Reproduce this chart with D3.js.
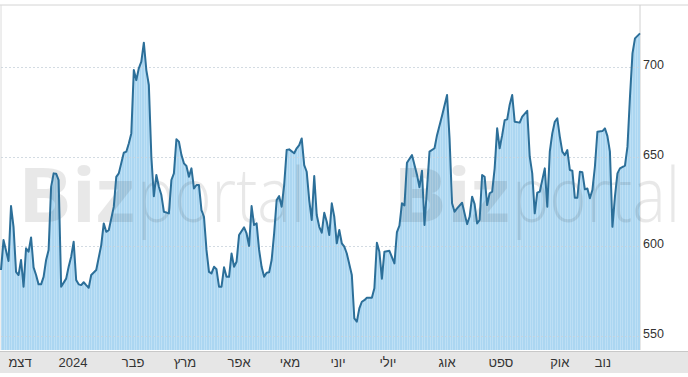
<!DOCTYPE html>
<html>
<head>
<meta charset="utf-8">
<script src="https://cdn.jsdelivr.net/npm/d3@7"></script>
<style>
  body { margin: 0; background: #fff; }
  svg { display: block; }
</style>
</head>
<body>
<svg id="chart" width="688" height="377"></svg>
<script>
// trading-day index of each reading (0 = start of Dec 2023)
const days = [0,1,3,4,5,6,7,8,9,10,11,12,13,14,15,16,17,18,19,20,
  21,22,23,24,26,27,28,29,30,31,32,33,34,35,36,38,40,41,42,43,
  45,46,47,49,50,51,52,53,54,55,56,57,58,59,60,61,62,63,64,65,
  67,68,69,70,71,72,73,74,75,76,77,78,79,80,81,82,83,84,85,86,
  87,88,89,90,91,92,93,94,95,97,98,99,100,101,102,103,104,105,106,107,
  108,109,110,111,112,113,114,115,117,118,119,120,121,122,123,124,125,126,127,128,
  129,130,131,132,133,134,135,136,137,138,140,141,142,143,144,145,146,148,149,150,
  151,152,153,155,156,157,158,159,160,161,162,164,166,167,168,169,171,173,174,176,
  178,179,180,181,182,184,186,187,188,189,190,191,192,193,194,195,196,197,198,199,
  200,201,202,203,204,205,207,208,210,211,212,213,214,215,217,218,219,220,221,222,
  223,224,225,226,227,228,229,230,231,232,233,234,235,236,237,238,240,241,242,243,
  244,245,246,247,249,250,251,252,253,255];

const prices = [586.8,603.5,591.8,622.5,610.9,585.8,584,592.4,577.5,598.9,
  597,605,588.3,584,578.8,578.8,583,592.4,598,633.2,
  640.7,640.5,637,577.5,582,588.6,594.2,602.6,581.2,578.8,
  578.4,580,578.4,576.9,584,586.8,600.7,612.8,608.1,609,
  622,638.8,640.7,652.2,652.8,657.4,663,698.3,692.7,699.3,
  703,713.6,698.3,690,650,628,639.8,633.2,628.6,619.3,
  618.4,637,640.7,659.7,658.4,651,646.3,644.8,638.8,643.5,
  632.3,634.2,634.2,620.2,616.5,598,585.8,584.9,588.6,587.2,
  577.5,577.5,588.3,583,583,596,588.6,591.4,606.3,610.6,
  607.2,600.2,622.5,611.9,612.8,598,588.6,583,585.3,585.5,
  592.4,607.2,625.8,628,622.1,634.2,653.7,654.1,651.9,654.7,
  656.5,660.2,645.3,641.6,625.8,614.7,639.2,617.5,610.9,607.6,
  618.7,613.7,606.3,624,616.5,601.7,609.1,601.7,599.8,596,
  584,559.8,558,565.4,569.1,570,571.3,571.3,576.6,602,
  597,582,597,597.5,594,590.5,608,611.5,624,622.8,
  646.6,650.9,640,633,642.2,611.9,652.8,654.7,662,672.8,
  684.4,660.2,624,619.3,621.2,624.3,612.4,616.5,627.7,623.6,
  612.8,614.7,639.8,638.8,623,629.6,630.5,643.5,665.8,654.7,
  662,670.4,670.8,679,684.4,669.5,669,672.3,675.6,650,
  640.7,618.4,629.9,630.5,643.5,622.1,652.8,663,669.5,671.4,
  661.2,652.8,650.9,653.7,642.6,642.2,627.1,627.1,641.6,641.3,
  631.8,632.3,626.8,631.4,644.4,663.9,664.3,665.8,661.5,652.8,
  610.9,627.7,640.7,643.5,645,655.6,683.4,707.6,716,718.8];

const monthLabels = ['דצמ', '2024', 'פבר', 'מרץ', 'אפר', 'מאי', 'יוני', 'יולי', 'אוג', 'ספט', 'אוק', 'נוב'];
const monthDays = [7.6, 28.7, 52.7, 73.4, 95, 115.3, 134.5, 154.4, 178, 199.5, 223, 240.2];
const yTicks = [550, 600, 650, 700];

const data = days.map((d, i) => ({ day: d, value: prices[i] }));

const W = 688, H = 377;
const plot = { left: 1, right: 640, top: 5, bottom: 350 };

const svg = d3.select('#chart');

const x = d3.scaleLinear().domain([0, 255]).range([plot.left, plot.right]);
const y = d3.scaleLinear().domain([542.2, 734.6]).range([plot.bottom, plot.top]);

// frame
svg.append('line').attr('x1', 0).attr('x2', W).attr('y1', plot.top).attr('y2', plot.top)
  .attr('stroke', '#d4d4d4');
svg.append('line').attr('x1', plot.left).attr('x2', plot.left).attr('y1', plot.top).attr('y2', plot.bottom)
  .attr('stroke', '#dcdcdc');
svg.append('line').attr('x1', plot.right).attr('x2', plot.right).attr('y1', plot.top).attr('y2', plot.bottom)
  .attr('stroke', '#d0d0d0');

// area + stripes
const area = d3.area().x(d => x(d.day)).y0(plot.bottom).y1(d => y(d.value));
const line = d3.line().x(d => x(d.day)).y(d => y(d.value));

svg.append('clipPath').attr('id', 'areaClip')
  .append('path').attr('d', area(data));

svg.append('path').attr('d', area(data)).attr('fill', '#abd6f1');

svg.append('g').attr('clip-path', 'url(#areaClip)')
  .selectAll('line')
  .data(d3.range(0, 256))
  .join('line')
  .attr('x1', d => Math.round(x(d)) + 0.5)
  .attr('x2', d => Math.round(x(d)) + 0.5)
  .attr('y1', plot.top).attr('y2', plot.bottom)
  .attr('stroke', '#c6e4f7').attr('stroke-width', 1).attr('opacity', 0.7);

// gridlines
svg.append('g').selectAll('line')
  .data(yTicks)
  .join('line')
  .attr('x1', plot.left).attr('x2', plot.right)
  .attr('y1', d => Math.round(y(d)) + 0.5).attr('y2', d => Math.round(y(d)) + 0.5)
  .attr('stroke', '#c9d3dc').attr('stroke-dasharray', '2,2').attr('opacity', 0.8);

// watermark
const wm = svg.append('g').attr('fill', '#000').attr('opacity', 0.085)
  .attr('font-family', '"Open Sans", "Liberation Sans", sans-serif');
[18, 393].forEach(x0 => {
  wm.append('text').attr('x', x0).attr('y', 222).attr('font-size', 76).attr('font-weight', 700)
    .attr('textLength', 117).attr('lengthAdjust', 'spacingAndGlyphs').text('Biz');
  wm.append('text').attr('x', x0 + 119).attr('y', 222).attr('font-size', 76).attr('font-weight', 300)
    .attr('textLength', 168).attr('lengthAdjust', 'spacingAndGlyphs').text('portal');
});

// line
svg.append('path').attr('d', line(data))
  .attr('fill', 'none').attr('stroke', '#2c6f99').attr('stroke-width', 2)
  .attr('stroke-linejoin', 'round');

// x axis band
svg.append('rect').attr('x', 0).attr('y', 351).attr('width', W).attr('height', 22).attr('fill', '#e6e6e6');
svg.append('line').attr('x1', 0).attr('x2', W).attr('y1', 351.5).attr('y2', 351.5).attr('stroke', '#c8c8c8');

svg.append('g').selectAll('text')
  .data(monthLabels)
  .join('text')
  .attr('x', (d, i) => x(monthDays[i]))
  .attr('y', 367)
  .attr('text-anchor', 'middle')
  .attr('font-family', '"Liberation Sans", Arial, sans-serif')
  .attr('font-size', 13)
  .attr('fill', '#333')
  .text(d => d);

// y axis labels
svg.append('g').selectAll('text')
  .data(yTicks)
  .join('text')
  .attr('x', 643)
  .attr('y', d => y(d) + 2)
  .attr('font-family', '"Liberation Sans", Arial, sans-serif')
  .attr('font-size', 12.5)
  .attr('fill', '#333')
  .text(d => d);
</script>
</body>
</html>
